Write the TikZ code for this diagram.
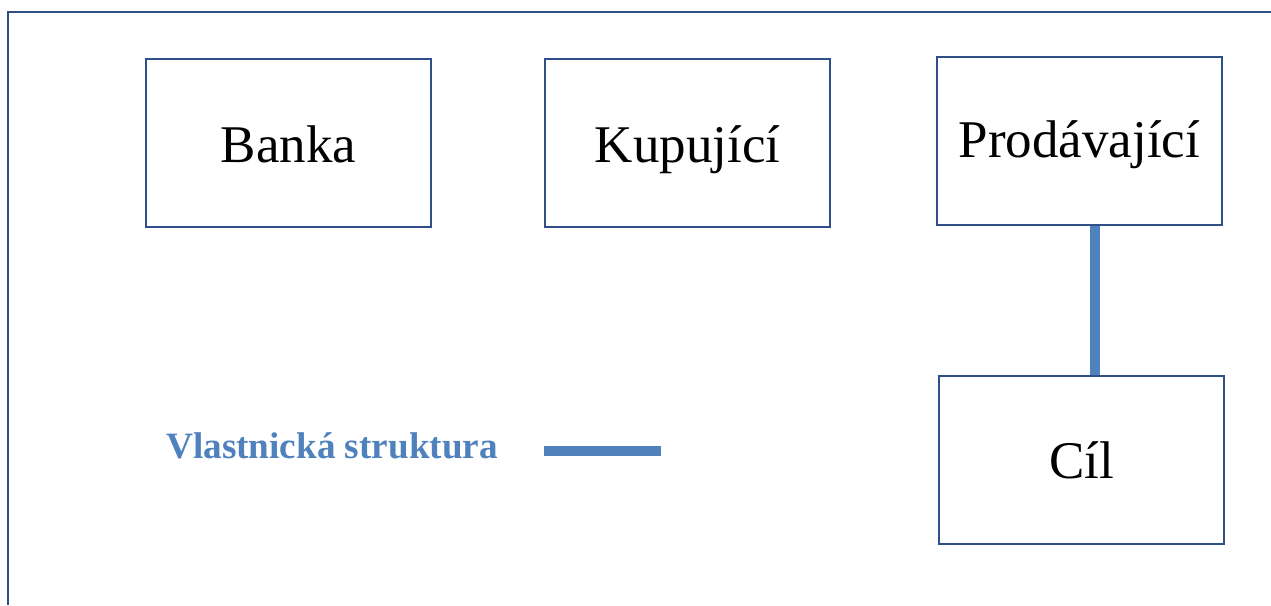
\documentclass[tikz,border=0pt]{standalone}
\usepackage{fontspec}
\setmainfont{Liberation Serif}
\definecolor{frameblue}{RGB}{47,78,138}
\definecolor{ownblue}{RGB}{79,129,189}
\begin{document}
\begin{tikzpicture}[x=1pt,y=1pt,
  entity/.style={draw=frameblue,line width=1.3pt,minimum width=285pt,minimum height=168pt,inner sep=0pt,text height=40pt,text depth=0pt,font=\fontsize{53}{60}\selectfont},
  ownline/.style={draw=ownblue,line width=10pt},
  frameline/.style={draw=frameblue,line width=1.8pt}]
\useasboundingbox (0,0) rectangle (1271,605);
\coordinate (ftl) at (8,593);
\coordinate (ftr) at (1271,593);
\coordinate (fbl) at (8,0);
\draw[frameline] (ftr) -- (ftl) -- (fbl);
\node[entity] (banka) at (288.5,462) {Banka};
\node[entity] (kup) at (687.5,462) {Kupující};
\node[entity,text height=34pt] (prod) at (1079.5,464) {Prodávající};
\node[entity,text height=38pt] (cil) at (1081.5,145) {Cíl};
\draw[ownline] ([xshift=15pt]prod.south) -- ([xshift=13pt]cil.north);
\node[text=ownblue,font=\bfseries\fontsize{37.2}{42}\selectfont,anchor=base west,inner sep=0pt] (leg) at (166,146) {Vlastnická struktura};
\coordinate (la) at (544,154);
\coordinate (lb) at (661,154);
\draw[ownline] (la) -- (lb);
\end{tikzpicture}
\end{document}
